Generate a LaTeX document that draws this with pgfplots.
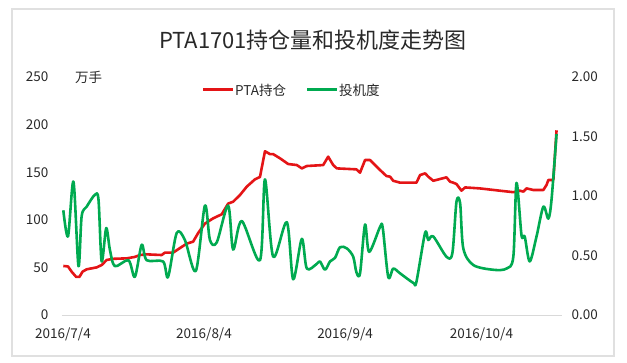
\documentclass[border=0pt]{standalone}
\usepackage{fontspec}
\setmainfont{Noto Sans CJK SC}
\usepackage{pgfplots}
\pgfplotsset{compat=1.18}
\definecolor{redline}{RGB}{228,20,22}
\definecolor{greenline}{RGB}{0,170,80}
\definecolor{txt}{RGB}{40,40,40}
\pgfplotstableread{
x y
0.07 51.5
1.1 51
1.9 45.5
2.9 40
3.6 40
4.3 45.5
5.2 48
7.4 50
8.5 52.5
9.6 57.8
11 59
14 59.5
15.8 61
16.9 63
18.4 63.7
21.7 63
22.4 65.5
24.2 65.5
25.3 69
27.2 75
28.6 77
29.7 86
31.2 96
33 101.5
34.9 105.8
36.3 117
37.4 119
38.9 126
40.4 134.8
42.2 142.5
43.3 145
44.4 172
45.5 169
46.2 169
47.7 164.6
49.5 158.6
51.4 157.5
52.5 154
53.6 156.5
57.2 157.5
58.3 166.3
59.4 157.5
60.2 154
64.5 153
65.3 149.5
66.4 162.8
67.5 162.8
69.7 152.3
71.1 146
71.9 145.3
72.6 141
74.1 139
77.7 139
78.5 147
79.6 148.8
80.3 145.3
81.4 141
84.3 144.6
85.1 140
85.8 139
86.5 137.6
87.6 130.6
88.4 134
91.6 133
96 130.6
99 129
100.4 130.6
101.2 129.6
101.9 133
103.4 131.3
105.6 131.3
106.3 136.6
106.7 141.8
107.8 141.8
108.5 194
}\redtable
\pgfplotstableread{
x y
0.07 0.88
1.1 0.66
2.3 1.12
3.4 0.41
4.1 0.83
5.2 0.91
7.0 1.01
7.8 0.97
8.5 0.45
9.5 0.73
10.3 0.55
11.4 0.41
14.4 0.46
15.8 0.32
17.3 0.59
18.4 0.46
22.0 0.45
23.1 0.32
25.0 0.69
26.8 0.63
29.2 0.37
31.2 0.92
32.3 0.63
33.8 0.61
36.3 0.92
37.4 0.55
39.3 0.79
43.3 0.46
44.4 1.14
46.2 0.49
49.2 0.78
50.6 0.30
52.5 0.64
53.6 0.39
55.8 0.43
56.5 0.45
57.6 0.38
58.7 0.45
59.8 0.48
60.9 0.57
62.4 0.56
63.8 0.49
64.5 0.36
65.3 0.35
66.4 0.76
67.3 0.53
69.7 0.74
70.3 0.73
71.5 0.32
72.6 0.39
74.1 0.35
77.0 0.27
77.7 0.28
79.6 0.69
80.3 0.63
81.4 0.66
84.3 0.49
85.6 0.52
86.5 0.95
87.3 0.94
88.0 0.56
90.2 0.42
94.6 0.38
97.5 0.39
99.0 0.49
99.7 1.11
100.8 0.67
101.5 0.66
102.6 0.45
104.1 0.66
105.6 0.91
106.7 0.81
107.4 0.97
108.5 1.52
}\greentable
\begin{document}
\begin{tikzpicture}[x=1pt,y=1pt]
\path[use as bounding box] (0,0) rectangle (627,362);
\draw[black!12, line width=1.2pt] (12,6) rectangle (614,353);
\node[font=\fontsize{22}{22}\selectfont, text=txt] at (313,322) {PTA1701持仓量和投机度走势图};
\node[anchor=west, font=\fontsize{13.5}{14}\selectfont, text=txt, inner sep=0] at (75,285) {万手};
% legend
\draw[redline, line width=3pt] (203,272) -- (233,272);
\node[anchor=west, font=\fontsize{13.5}{14}\selectfont, text=txt, inner sep=0] at (235,272) {PTA持仓};
\draw[greenline, line width=3pt] (307,272) -- (337,272);
\node[anchor=west, font=\fontsize{13.5}{14}\selectfont, text=txt, inner sep=0] at (339,272) {投机度};
\pgfplotsset{
  base/.style={
    at={(62pt,47pt)}, anchor=south west,
    scale only axis, width=500pt, height=238pt,
    xmin=-0.22, xmax=109.7,
    axis line style={draw=none},
    tick style={draw=none},
    /pgf/number format/assume math mode=true,
    tick label style={font=\fontsize{13.5}{14}\selectfont, text=txt},
    clip=false,
  }
}
\begin{axis}[base,
  ymin=0, ymax=250, ytick={0,50,...,250},
  xtick={0,31,62,92},
  xticklabels={2016/7/4,2016/8/4,2016/9/4,2016/10/4},
  xticklabel style={yshift=-9pt},
  yticklabel style={xshift=-10pt},
]
\draw[black!15, line width=0.8pt] (axis cs:-0.22,0) -- (axis cs:109.7,0);
\addplot[redline, line width=2.6pt, line join=round, no markers] table[x=x,y=y] {\redtable};
\end{axis}
\begin{axis}[base,
  ymin=0, ymax=2, ytick={0,0.5,...,2},
  axis y line*=right,
  axis x line=none,
  yticklabel style={xshift=6pt, /pgf/number format/.cd, fixed, fixed zerofill, precision=2},
]
\addplot[greenline, line width=2.6pt, line join=round, smooth, tension=0.5, no markers] table[x=x,y=y] {\greentable};
\end{axis}
\end{tikzpicture}
\end{document}
